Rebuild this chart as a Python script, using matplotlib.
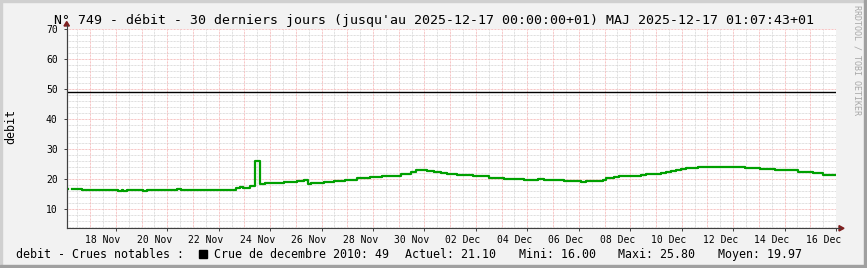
import numpy as np
import pandas as pd
import matplotlib
matplotlib.use('Agg')
import matplotlib.pyplot as plt
import matplotlib.dates as mdates
from matplotlib.patches import Rectangle, Polygon

# --- data (days after 2025-11-17 00:00, debit) ---
step_days = [0.09, 0.16, 0.30, 0.70, 2.10, 2.23, 2.29, 2.43, 3.07, 3.20,
             4.37, 4.54, 6.68, 6.81, 6.95, 7.04, 7.23, 7.41, 7.59, 7.81,
             8.53, 9.05, 9.30, 9.46, 9.60, 10.09, 10.48, 10.93, 11.39, 11.45,
             11.90, 12.36, 12.68, 13.07, 13.27, 13.46, 13.66, 13.92, 14.11, 14.37,
             14.63, 14.89, 15.28, 15.87, 16.51, 17.10, 17.88, 18.40, 18.66, 19.44,
             20.09, 20.30, 20.54, 20.93, 21.06, 21.38, 21.58, 22.03, 22.42, 22.62,
             23.20, 23.40, 23.60, 23.79, 23.98, 24.17, 24.37, 24.63, 26.45, 27.03,
             27.62, 27.81, 28.53, 29.12, 29.50, 30.00]
debit = [16.4, np.nan, 16.5, 16.1, 15.8, 16.1, 15.8, 16.1, 15.8, 16.1,
         16.4, 16.1, 16.7, 17.3, 16.7, 16.9, 17.5, 25.8, 18.3, 18.5,
         18.9, 19.2, 19.7, 18.3, 18.5, 18.9, 19.2, 19.6, 20.2, 20.1,
         20.5, 20.8, 21.0, 21.7, 21.4, 22.2, 22.8, 23.0, 22.7, 22.2,
         21.9, 21.6, 21.2, 20.9, 20.3, 20.0, 19.6, 19.8, 19.5, 19.1,
         18.9, 19.3, 19.1, 19.6, 20.3, 20.6, 20.8, 21.0, 21.3, 21.6,
         21.8, 22.1, 22.5, 22.9, 23.3, 23.7, 23.5, 23.9, 23.6, 23.1,
         22.9, 22.8, 22.1, 21.8, 21.1, 21.1]

crue_label = 'Crue de decembre 2010'
crue_value = 49
actuel, mini, maxi, moyen = 21.10, 16.00, 25.80, 19.97

tick_labels = ['18 Nov', '20 Nov', '22 Nov', '24 Nov', '26 Nov', '28 Nov', '30 Nov',
               '02 Dec', '04 Dec', '06 Dec', '08 Dec', '10 Dec', '12 Dec', '14 Dec', '16 Dec']

start = pd.Timestamp('2025-11-17 00:00')
end = pd.Timestamp('2025-12-17 00:00')
times = start + pd.to_timedelta(step_days, unit='D')

title = ("N° 749 - débit - 30 derniers jours (jusqu'au 2025-12-17 00:00:00+01) "
         "MAJ 2025-12-17 01:07:43+01")

# --- figure, pixel layout like rrdtool ---
W, H = 867, 268
plt.rcParams['font.family'] = ['DejaVu Sans Mono', 'DejaVu Sans']
fig = plt.figure(figsize=(W / 100, H / 100), dpi=100, facecolor='#f2f2f2')

left, right, top, bottom = 66.7, 836.0, 29.0, 228.3
ax = fig.add_axes([left / W, (H - bottom) / H, (right - left) / W, (bottom - top) / H])
ax.set_facecolor('white')
ax.set_ylim(3.4, 70)
x0 = mdates.date2num(start + pd.Timedelta(hours=2.2))
x1 = mdates.date2num(end)
ax.set_xlim(x0, x1)

# --- grid ---
red = '#f5b0b0'
gray = '#d4d4d4'
dots = (0, (0.72, 0.72))
for v in range(4, 70, 2):
    if v % 10:
        ax.axhline(v, color=gray, lw=0.72, ls=dots, zorder=0)
for v in range(10, 71, 10):
    ax.axhline(v, color=red, lw=0.72, ls=dots, zorder=1)
for d in range(30):
    ax.axvline(mdates.date2num(start + pd.Timedelta(days=d + 0.5)), color=gray, lw=0.72, ls=dots, zorder=0)
for d in range(1, 31):
    ax.axvline(mdates.date2num(start + pd.Timedelta(days=d)), color=red, lw=0.72, ls=dots, zorder=1)

# --- series ---
ax.axhline(crue_value, color='black', lw=1.0, zorder=3)
ax.step(mdates.date2num(times), debit, where='post', color='#00a000', lw=1.6, zorder=4)

# --- axes and ticks ---
for s in ['top', 'right']:
    ax.spines[s].set_visible(False)
for s in ['left', 'bottom']:
    ax.spines[s].set_color('#404040')
    ax.spines[s].set_linewidth(0.8)
    ax.spines[s].set_zorder(5)

label_pos = [mdates.date2num(start + pd.Timedelta(days=1.5 + 2 * i)) for i in range(len(tick_labels))]
ax.set_xticks(label_pos)
ax.set_xticklabels(tick_labels)
ax.set_xticks([mdates.date2num(start + pd.Timedelta(days=d)) for d in range(2, 31, 2)], minor=True)
ax.tick_params(axis='x', which='major', length=0, pad=5, labelsize=7)
ax.tick_params(axis='x', which='minor', length=2, width=0.7, color='#404040')
ax.set_yticks(range(10, 71, 10))
ax.tick_params(axis='y', length=2, width=0.7, color='#404040', pad=4.5, labelsize=7)

# arrows at the ends of the axes
arrow_col = '#7f1f1f'
fig.add_artist(Polygon([((left - 2.7) / W, 1 - 26 / H), ((left + 2.7) / W, 1 - 26 / H),
                        (left / W, 1 - 21.5 / H)], closed=True, color=arrow_col,
                       transform=fig.transFigure))
fig.add_artist(Polygon([((right + 3) / W, 1 - (bottom - 2.7) / H), ((right + 3) / W, 1 - (bottom + 2.7) / H),
                        ((right + 8) / W, 1 - bottom / H)], closed=True, color=arrow_col,
                       transform=fig.transFigure))
fig.add_artist(plt.Line2D([left / W, left / W], [1 - bottom / H, 1 - 25 / H], color='#404040', lw=0.8))
fig.add_artist(plt.Line2D([right / W, (right + 4) / W], [1 - bottom / H, 1 - bottom / H], color='#404040', lw=0.8))

# --- texts ---
fig.text(0.5, 1 - 24 / H, title, ha='center', va='baseline', fontsize=9.5, color='black')
fig.text(10.5 / W, 1 - 127 / H, 'debit', rotation=90, ha='center', va='center', fontsize=8.4)
fig.text(857.5 / W, 1 - 5 / H, 'RRDTOOL / TOBI OETIKER', rotation=270, ha='center', va='top',
         fontsize=6, color='#a8a8a8')

ly = 1 - 258 / H
fig.text(16 / W, ly, 'debit - Crues notables :', ha='left', va='baseline', fontsize=8.4)
fig.add_artist(Rectangle((199 / W, ly), 8.3 / W, 8.3 / H, color='black', transform=fig.transFigure))
fig.text(214 / W, ly, f'{crue_label}: {crue_value}', ha='left', va='baseline', fontsize=8.4)
fig.text(405 / W, ly, f'Actuel: {actuel:.2f}', ha='left', va='baseline', fontsize=8.4)
fig.text(519 / W, ly, f'Mini: {mini:.2f}', ha='left', va='baseline', fontsize=8.4)
fig.text(618.3 / W, ly, f'Maxi: {maxi:.2f}', ha='left', va='baseline', fontsize=8.4)
fig.text(718.3 / W, ly, f'Moyen: {moyen:.2f}', ha='left', va='baseline', fontsize=8.4)

# --- 3d-ish border ---
fig.add_artist(Rectangle((0, 1 - 2 / H), 1, 2 / H, color='#d0d0d0', transform=fig.transFigure))
fig.add_artist(Rectangle((0, 0), 2 / W, 1, color='#d0d0d0', transform=fig.transFigure))
fig.add_artist(Rectangle((0, 0), 1, 3 / H, color='#a0a0a0', transform=fig.transFigure))
fig.add_artist(Rectangle((1 - 3 / W, 0), 3 / W, 1, color='#a0a0a0', transform=fig.transFigure))

fig.savefig('out.png', dpi=100, facecolor=fig.get_facecolor())
